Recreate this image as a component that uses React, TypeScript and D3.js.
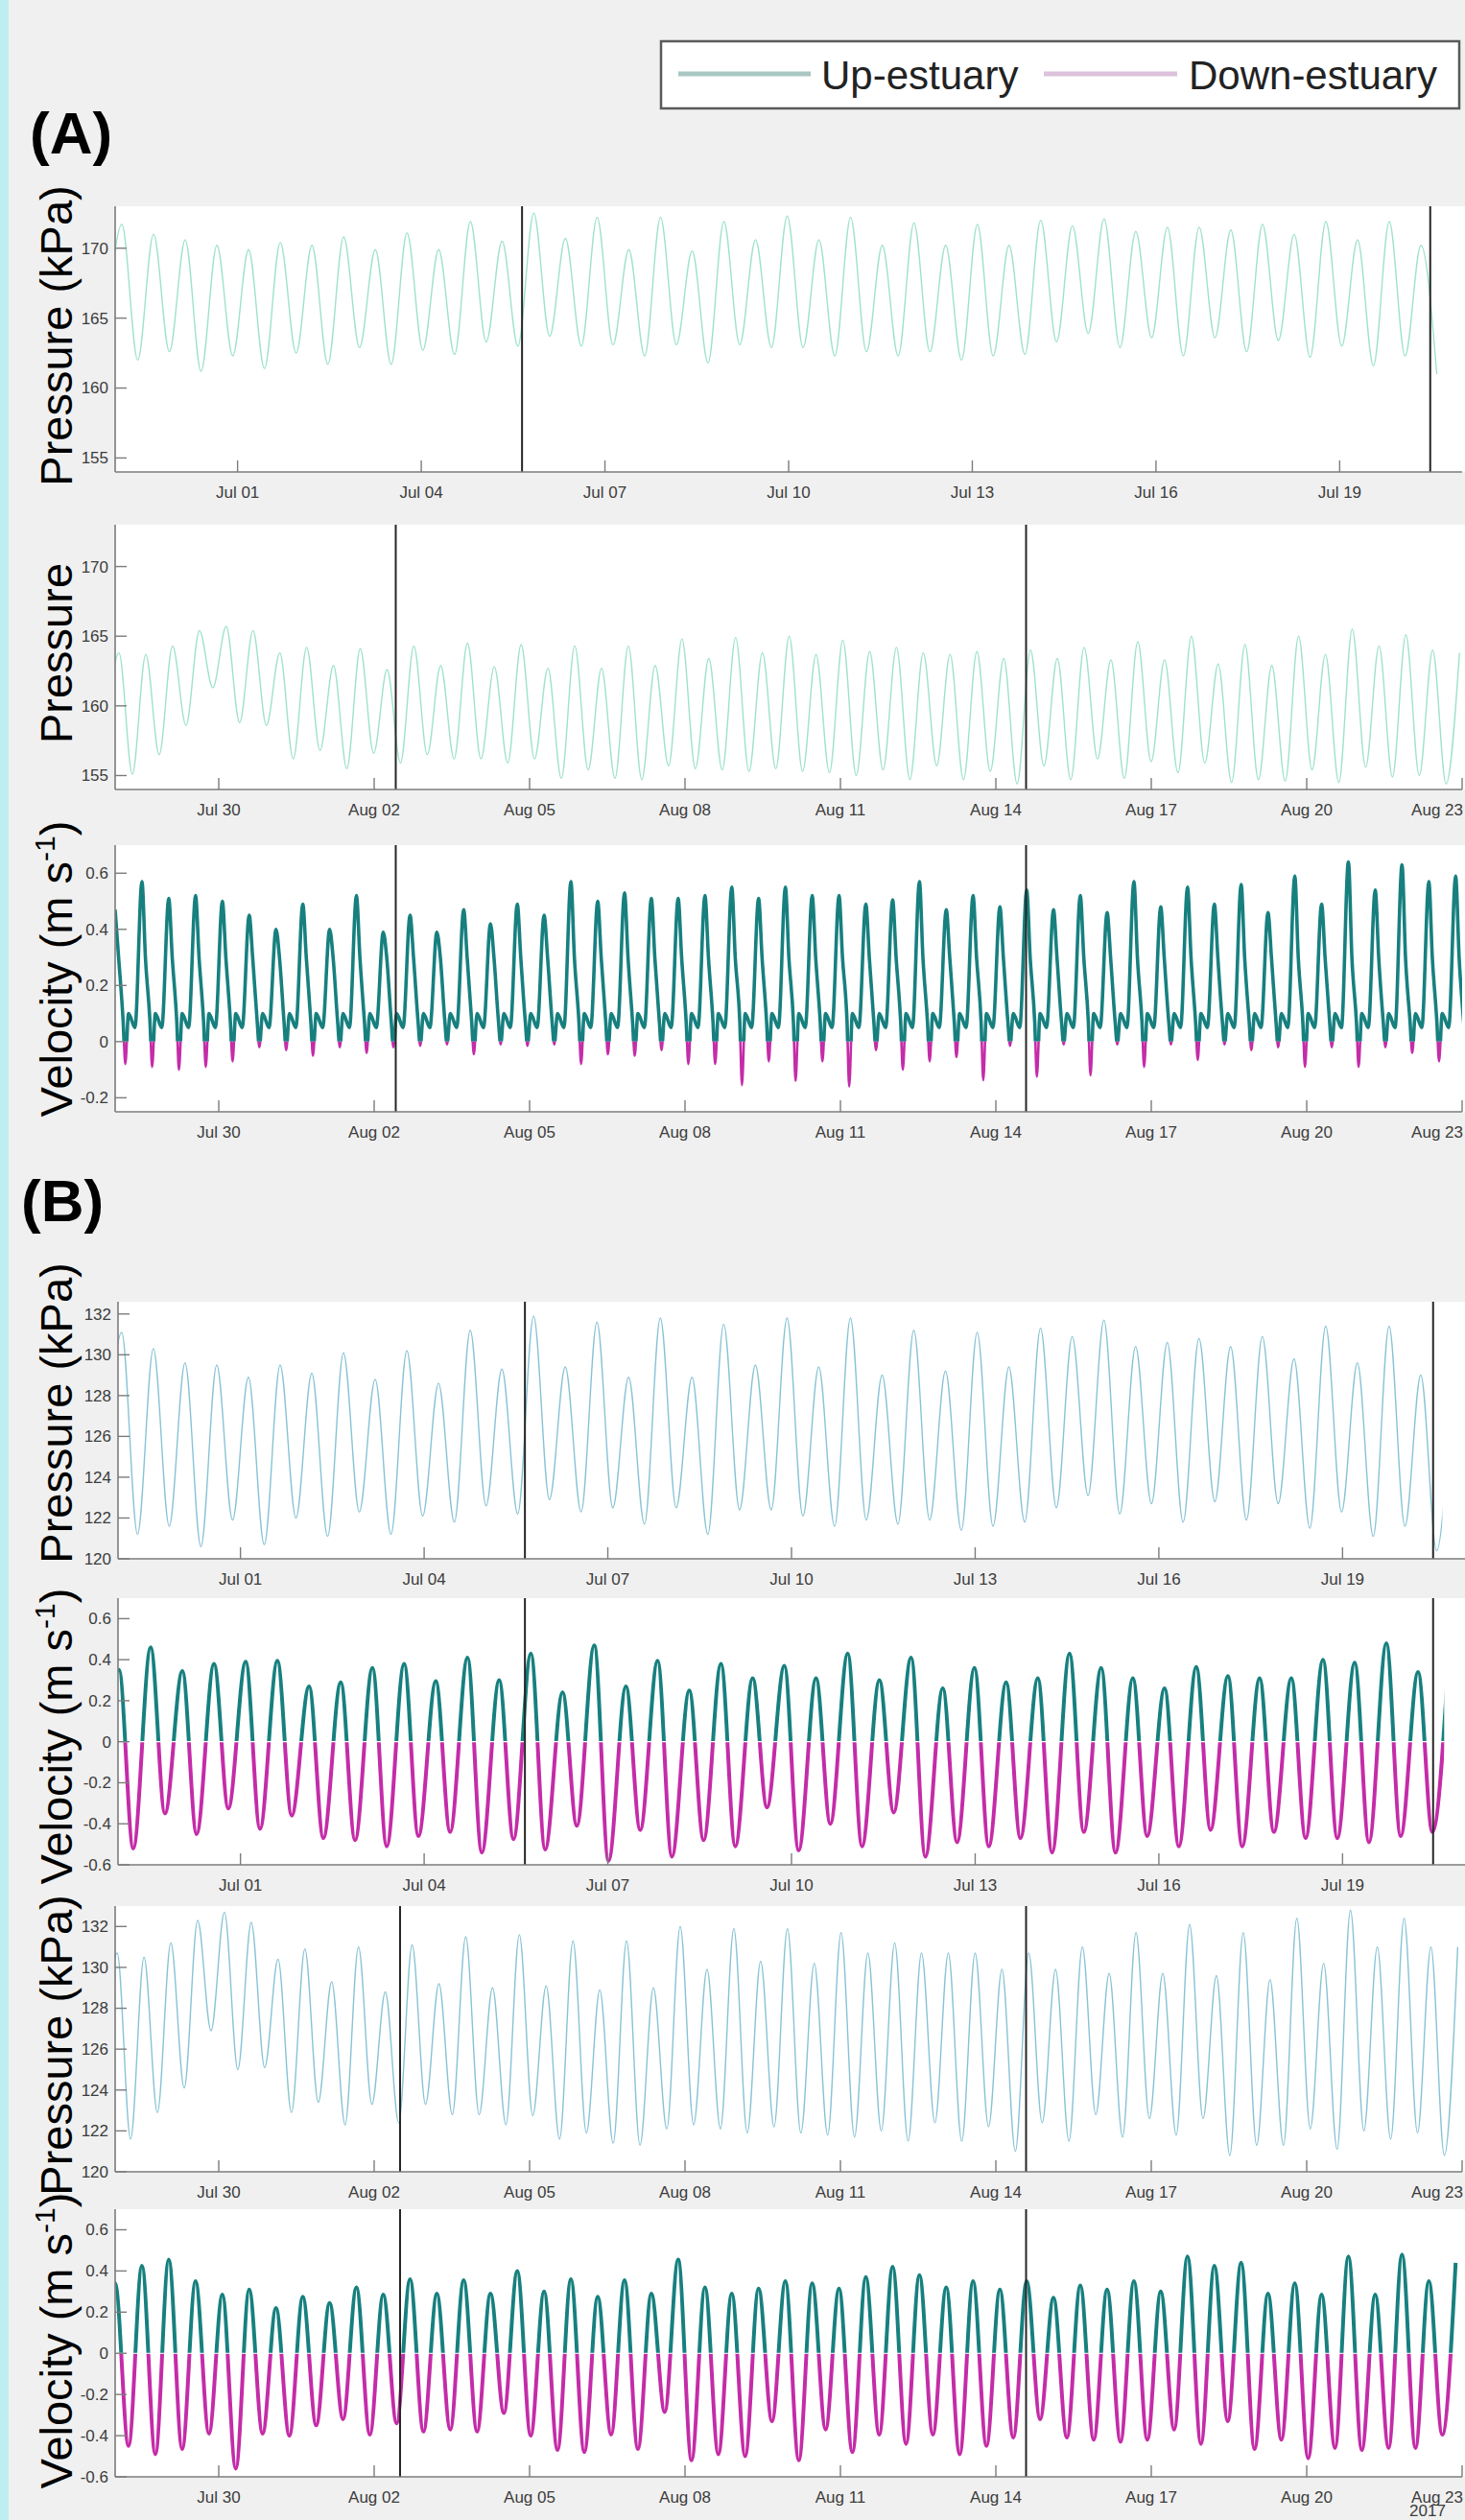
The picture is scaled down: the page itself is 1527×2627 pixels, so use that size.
import React from 'react'
import * as d3 from 'd3'

const W = 1527
const H = 2627
const DAY = 86400000
// semi-diurnal tidal period, in days
const PERIOD = 0.5175

const FONT = 'Liberation Sans, Arial, Helvetica, sans-serif'

// deployments
const D1 = ['2017-06-29', '2017-07-21']
const D2 = ['2017-07-28', '2017-08-23']
const SPLITS_A1 = ['2017-07-05T15:30', '2017-07-20T11:30']
const SPLITS_A2 = ['2017-08-02T10:00', '2017-08-14T14:00']
const SPLITS_B2 = ['2017-08-02T12:00', '2017-08-14T14:00']

const TICKS_1 = ['2017-07-01', '2017-07-04', '2017-07-07', '2017-07-10', '2017-07-13', '2017-07-16', '2017-07-19']
const TICKS_2 = ['2017-07-30', '2017-08-02', '2017-08-05', '2017-08-08', '2017-08-11', '2017-08-14', '2017-08-17', '2017-08-20', '2017-08-23']

const P_A_TICKS = [155, 160, 165, 170]
const P_B_TICKS = [120, 122, 124, 126, 128, 130, 132]
const V_A_TICKS = [-0.2, 0, 0.2, 0.4, 0.6]
const V_B_TICKS = [-0.6, -0.4, -0.2, 0, 0.2, 0.4, 0.6]

// (A) pressure, first deployment: high waters and low waters (kPa)
// lows[0] is the low before the first high, lows[i+1] follows highs[i]
const A1_HIGH = [171.7, 171.0, 170.6, 170.2, 169.9, 170.4, 170.2, 170.8, 169.9, 171.1, 169.9, 171.9, 170.5,
  172.5, 170.7, 172.2, 169.9,
  172.2, 169.8, 171.9, 170.6, 172.3, 170.6, 172.2, 170.2, 171.8, 170.2, 171.7, 170.2, 172.0, 171.6, 172.1, 171.2,
  171.5, 171.5, 171.3, 171.7, 171.0, 171.9, 170.6, 171.9, 170.2]
const A1_LOW = [163.5, 162.0, 162.6, 161.2, 162.3, 161.4, 162.5, 161.7, 162.9, 161.7, 162.7, 162.4, 163.3, 163.0,
  163.7, 163.0, 163.1, 162.3,
  163.1, 161.8, 163.1, 162.9, 162.9, 162.3, 162.6, 162.3, 162.6, 162.0, 162.3, 162.4, 163.3, 163.9, 162.9, 163.6,
  162.3, 163.6, 162.6, 163.4, 162.2, 163.0, 161.6, 162.3, 161.0]

// (A) pressure, second deployment
const A2_HIGH = [163.8, 163.7, 164.3, 165.4, 165.7, 165.4, 163.8, 164.2, 162.9, 164.1, 162.6, 164.3, 162.9, 164.5,
  162.8, 164.4, 162.7, 164.3, 162.7, 164.3, 162.9, 164.8, 163.4,
  164.9, 163.8, 165.0, 163.7, 164.7, 163.9, 164.2, 163.8, 163.7, 163.9, 163.4, 164.0, 163.4, 164.2, 163.3, 164.6,
  163.3, 165.0, 163.0, 164.4, 162.9, 165.0, 163.7, 165.5, 164.3, 165.1, 164.0, 163.8]
const A2_LOW = [158.0, 155.1, 156.5, 158.6, 161.3, 158.8, 158.6, 156.2, 156.8, 155.5, 156.6, 155.9, 156.5, 156.2,
  156.2, 155.9, 156.2, 154.8, 155.4, 154.8, 154.7, 155.7, 155.5, 155.4,
  155.3, 155.5, 155.3, 155.2, 155.0, 155.4, 154.7, 155.7, 154.7, 155.3, 154.4, 155.7, 154.7, 156.2, 154.8, 156.0,
  155.2, 155.9, 154.5, 154.7, 154.6, 155.4, 154.5, 155.6, 154.9, 155.0, 154.4]

// (A) velocity, second deployment: flood peaks and ebb dips (m/s)
const A3_PEAK = [0.47, 0.57, 0.51, 0.52, 0.50, 0.45, 0.40, 0.49, 0.40, 0.52, 0.39, 0.45, 0.39, 0.47, 0.42, 0.49,
  0.45, 0.57, 0.50, 0.53, 0.51, 0.51, 0.52, 0.55,
  0.51, 0.55, 0.52, 0.52, 0.49, 0.505, 0.57, 0.47, 0.52, 0.48, 0.54, 0.47, 0.52, 0.46, 0.57, 0.48, 0.55, 0.49,
  0.56, 0.46, 0.59, 0.49, 0.64, 0.54, 0.63, 0.57, 0.59]
const A3_EBB = [-0.08, -0.09, -0.10, -0.09, -0.07, -0.02, -0.03, -0.05, -0.02, -0.04, -0.02, -0.015, -0.01, -0.045,
  -0.01, -0.015, -0.01, -0.08, -0.045, -0.05, -0.03, -0.08, -0.08,
  -0.155, -0.07, -0.14, -0.07, -0.16, -0.03, -0.10, -0.07, -0.055, -0.137, -0.015, -0.125, -0.01, -0.12, -0.01,
  -0.09, -0.01, -0.065, -0.01, -0.03, -0.02, -0.09, -0.02, -0.09, -0.02, -0.04, -0.07, -0.01]
// shoulder, slack floor, floor after the dip, low before the next flood
const A3_LEVELS = [0.3, 0.07, 0.1, 0.05]

// (B) pressure, first deployment
const B1_HIGH = [131.1, 130.3, 129.6, 129.5, 128.9, 129.5, 129.1, 130.1, 128.8, 130.2, 128.6, 131.2, 129.3, 131.9,
  129.4, 131.6, 128.9, 131.8, 128.9, 131.5,
  129.5, 131.8, 129.4, 131.8, 129.0, 131.2, 129.2, 131.1, 129.4, 131.3, 130.9, 131.7, 130.4, 130.6, 130.8, 130.4,
  130.9, 129.8, 131.4, 129.6, 131.4, 129.0, 129.5]
const B1_LOW = [124.0, 121.2, 121.6, 120.6, 121.9, 120.7, 122.0, 121.1, 122.3, 121.2, 122.1, 121.8, 122.6, 122.2,
  122.9, 122.3, 122.5, 121.7, 122.5, 121.2,
  122.4, 122.4, 122.1, 121.6, 121.9, 121.7, 121.9, 121.4, 121.6, 121.8, 122.5, 123.1, 122.2, 122.7, 121.8, 122.8,
  121.9, 122.7, 121.5, 122.3, 121.1, 121.6, 120.4]

// (B) velocity, first deployment: flood maxima and ebb minima
const B2_HIGH = [0.35, 0.46, 0.345, 0.38, 0.39, 0.395, 0.27, 0.29, 0.36, 0.38, 0.295, 0.41, 0.30, 0.43, 0.24, 0.47,
  0.27, 0.395, 0.25, 0.38,
  0.31, 0.37, 0.31, 0.43, 0.30, 0.41, 0.26, 0.36, 0.29, 0.31, 0.43, 0.36, 0.31, 0.26, 0.365, 0.32, 0.31, 0.31, 0.40,
  0.385, 0.48, 0.34, 0.5]
const B2_LOW = [-0.3, -0.52, -0.35, -0.45, -0.325, -0.425, -0.36, -0.47, -0.48, -0.51, -0.46, -0.44, -0.54, -0.475,
  -0.525, -0.41, -0.58, -0.43, -0.56, -0.48,
  -0.51, -0.32, -0.53, -0.40, -0.51, -0.345, -0.56, -0.49, -0.51, -0.47, -0.54, -0.44, -0.54, -0.46, -0.51, -0.43,
  -0.51, -0.44, -0.47, -0.47, -0.49, -0.46, -0.44]

// (B) pressure, second deployment
const B3_HIGH = [130.7, 130.5, 131.2, 132.3, 132.7, 132.2, 130.4, 130.9, 129.3, 131.0, 128.8, 131.1, 129.2, 131.5,
  129.0, 131.6, 129.1, 131.3, 128.9, 131.3, 129.0, 132.0, 129.9,
  131.9, 130.3, 131.9, 130.2, 131.7, 130.7, 131.2, 130.7, 130.7, 130.7, 129.9, 130.7, 129.9, 131.0, 129.7, 131.7,
  129.7, 132.1, 129.6, 131.7, 129.4, 132.4, 130.2, 132.8, 131.0, 132.4, 131.0, 131.0]
const B3_LOW = [125.0, 121.6, 122.9, 124.1, 126.9, 125.0, 125.1, 122.9, 123.4, 122.3, 123.3, 122.4, 123.3, 122.8,
  122.8, 122.3, 122.75, 121.6, 121.9, 121.4, 121.3, 122.1, 122.3, 122.1,
  121.9, 122.2, 121.9, 121.8, 121.7, 122.0, 121.5, 122.4, 121.5, 122.2, 121.0, 122.4, 121.5, 122.8, 121.7, 122.6,
  121.8, 122.6, 120.8, 121.3, 121.3, 122.1, 121.1, 122.0, 121.6, 121.9, 120.8]

// (B) velocity, second deployment
const B4_HIGH = [0.34, 0.425, 0.455, 0.35, 0.285, 0.31, 0.22, 0.275, 0.245, 0.32, 0.285, 0.36, 0.29, 0.355, 0.29,
  0.40, 0.30, 0.36, 0.275, 0.355, 0.29, 0.455, 0.32, 0.29,
  0.315, 0.35, 0.34, 0.315, 0.37, 0.42, 0.38, 0.32, 0.35, 0.31, 0.35, 0.27, 0.33, 0.31, 0.35, 0.30, 0.47, 0.425,
  0.44, 0.29, 0.34, 0.285, 0.47, 0.285, 0.48, 0.35, 0.44]
const B4_LOW = [-0.3, -0.45, -0.49, -0.465, -0.39, -0.56, -0.39, -0.40, -0.35, -0.32, -0.395, -0.34, -0.38, -0.37,
  -0.38, -0.29, -0.40, -0.47, -0.48, -0.395, -0.465, -0.285, -0.52, -0.49,
  -0.50, -0.33, -0.52, -0.37, -0.48, -0.395, -0.44, -0.395, -0.49, -0.45, -0.41, -0.32, -0.41, -0.42, -0.43, -0.42,
  -0.37, -0.44, -0.33, -0.465, -0.42, -0.51, -0.46, -0.47, -0.46, -0.46, -0.395]

const C_PA = '#9fe2cb'
const C_PB = '#88c3d4'
const C_UP = '#17807f'
const C_DOWN = '#c42ca8'
const C_AXIS = '#7c7c7c'
const C_TEXT = '#3c3c3c'

type Pt = { t: number; v: number }

const utc = (s: string) => new Date(s.length > 10 ? s + ':00Z' : s + 'T00:00:00Z').getTime()

// alternate highs and lows along the tidal period
function tide(start: string, t0: number, highs: number[], lows: number[], lowFrac: number): Pt[] {
  const s = utc(start)
  const pts: Pt[] = [{ t: s + (t0 - (1 - lowFrac) * PERIOD) * DAY, v: lows[0] }]
  highs.forEach((h, i) => {
    const th = t0 + i * PERIOD
    pts.push({ t: s + th * DAY, v: h })
    if (lows[i + 1] !== undefined) pts.push({ t: s + (th + lowFrac * PERIOD) * DAY, v: lows[i + 1] })
  })
  return pts
}

// flood-dominated velocity: peak, shoulder, slack floor with a short ebb dip
function flood(start: string, t0: number, peaks: number[], ebbs: number[], lv: number[]): Pt[] {
  const s = utc(start)
  const pts: Pt[] = []
  peaks.forEach((p, i) => {
    const tp = t0 + i * PERIOD
    pts.push({ t: s + tp * DAY, v: p })
    if (ebbs[i] === undefined) return
    pts.push({ t: s + (tp + 0.13 * PERIOD) * DAY, v: lv[0] })
    pts.push({ t: s + (tp + 0.3 * PERIOD) * DAY, v: lv[1] })
    pts.push({ t: s + (tp + 0.38 * PERIOD) * DAY, v: ebbs[i] })
    pts.push({ t: s + (tp + 0.5 * PERIOD) * DAY, v: lv[2] })
    pts.push({ t: s + (tp + 0.74 * PERIOD) * DAY, v: lv[3] })
  })
  return pts
}

type PanelDef = {
  id: string
  left: number
  right: number
  top: number
  bottom: number
  dom: string[]
  y: [number, number]
  yTicks: number[]
  xTicks: string[]
  splits: string[]
  kind: 'p' | 'v'
  color?: string
  series: Pt[]
  end?: number
  zeroLine?: boolean
}

const PANELS: PanelDef[] = [
  { id: 'a1', left: 120, right: 1524, top: 215, bottom: 492, dom: D1, y: [154, 173], yTicks: P_A_TICKS, xTicks: TICKS_1,
    splits: SPLITS_A1, kind: 'p', color: C_PA, series: tide(D1[0], 0.11, A1_HIGH, A1_LOW, 0.5), end: 21.63 },
  { id: 'a2', left: 120, right: 1524, top: 547, bottom: 823, dom: D2, y: [154, 173], yTicks: P_A_TICKS, xTicks: TICKS_2,
    splits: SPLITS_A2, kind: 'p', color: C_PA, series: tide(D2[0], 0.074, A2_HIGH, A2_LOW, 0.5) },
  { id: 'a3', left: 120, right: 1524, top: 881, bottom: 1159, dom: D2, y: [-0.25, 0.7], yTicks: V_A_TICKS, xTicks: TICKS_2,
    splits: SPLITS_A2, kind: 'v', series: flood(D2[0], 0.0, A3_PEAK, A3_EBB, A3_LEVELS) },
  { id: 'b1', left: 123, right: 1527, top: 1357, bottom: 1625, dom: D1, y: [120, 132.6], yTicks: P_B_TICKS, xTicks: TICKS_1,
    splits: SPLITS_A1, kind: 'p', color: C_PB, series: tide(D1[0], 0.06, B1_HIGH, B1_LOW, 0.5), end: 21.63 },
  { id: 'b2', left: 123, right: 1527, top: 1666, bottom: 1944, dom: D1, y: [-0.6, 0.7], yTicks: V_B_TICKS, xTicks: TICKS_1,
    splits: SPLITS_A1, kind: 'v', series: tide(D1[0], 0.016, B2_HIGH, B2_LOW, 0.45), end: 21.66, zeroLine: true },
  { id: 'b3', left: 120, right: 1524, top: 1987, bottom: 2264, dom: D2, y: [120, 133], yTicks: P_B_TICKS, xTicks: TICKS_2,
    splits: SPLITS_B2, kind: 'p', color: C_PB, series: tide(D2[0], 0.04, B3_HIGH, B3_LOW, 0.5) },
  { id: 'b4', left: 120, right: 1524, top: 2303, bottom: 2582, dom: D2, y: [-0.6, 0.7], yTicks: V_B_TICKS, xTicks: TICKS_2,
    splits: SPLITS_B2, kind: 'v', series: tide(D2[0], 0.0, B4_HIGH, B4_LOW, 0.5), zeroLine: true },
]

const fmtDate = d3.utcFormat('%b %d')
const fmtVal = (v: number, kind: string) => (kind === 'v' ? (Math.abs(v) < 1e-9 ? '0' : v.toFixed(1)) : String(v))

function Panel({ p }: { p: PanelDef }) {
  const t0 = utc(p.dom[0])
  const x = d3.scaleUtc().domain([t0, utc(p.dom[1])]).range([p.left, p.right])
  const y = d3.scaleLinear().domain(p.y).range([p.bottom, p.top])
  const clipRight = Math.min(p.right, p.end !== undefined ? x(t0 + p.end * DAY) : p.right)
  const line = d3.line<Pt>().x(d => x(d.t)).y(d => y(d.v)).curve(d3.curveMonotoneX)
  const d = line(p.series) || ''
  const y0 = y(0)
  const sw = p.kind === 'v' ? (p.zeroLine ? 4 : 3.6) : 1.4
  return (
    <g>
      <defs>
        <clipPath id={`clip-${p.id}`}>
          <rect x={p.left} y={p.top} width={clipRight - p.left} height={p.bottom - p.top} />
        </clipPath>
        {p.kind === 'v' && (
          <>
            <clipPath id={`pos-${p.id}`}>
              <rect x={p.left} y={p.top} width={clipRight - p.left} height={y0 - p.top} />
            </clipPath>
            <clipPath id={`neg-${p.id}`}>
              <rect x={p.left} y={y0} width={clipRight - p.left} height={p.bottom - y0} />
            </clipPath>
          </>
        )}
      </defs>
      <rect x={p.left} y={p.top} width={W - p.left} height={p.bottom - p.top} fill="#fff" />
      {p.kind === 'p' ? (
        <path d={d} fill="none" stroke={p.color} strokeWidth={sw} clipPath={`url(#clip-${p.id})`} />
      ) : (
        <>
          <path d={d} fill="none" stroke={C_UP} strokeWidth={sw} strokeLinejoin="round"
            clipPath={`url(#pos-${p.id})`} />
          <path d={d} fill="none" stroke={C_DOWN} strokeWidth={p.zeroLine ? sw : 2.6} strokeLinejoin="round"
            clipPath={`url(#neg-${p.id})`} />
          {p.zeroLine && (
            <line x1={p.left} x2={clipRight} y1={y0} y2={y0} stroke="#fff" strokeWidth={1.2} />
          )}
        </>
      )}
      {p.splits.map(s => (
        <line key={s} x1={x(utc(s))} x2={x(utc(s))} y1={p.top} y2={p.bottom} stroke="#262626" strokeWidth={2} />
      ))}
      <line x1={p.left} x2={p.left} y1={p.top} y2={p.bottom} stroke={C_AXIS} strokeWidth={1.6} />
      <line x1={p.left} x2={p.right} y1={p.bottom} y2={p.bottom} stroke={C_AXIS} strokeWidth={1.6} />
      {p.yTicks.map(v => (
        <g key={v}>
          <line x1={p.left} x2={p.left + 12} y1={y(v)} y2={y(v)} stroke={C_AXIS} strokeWidth={1.4} />
          <text x={p.left - 7} y={y(v)} dy="0.35em" textAnchor="end" fontSize={17} fill={C_TEXT} fontFamily={FONT}>
            {fmtVal(v, p.kind)}
          </text>
        </g>
      ))}
      {p.xTicks.map(s => {
        const xx = x(utc(s))
        // keep the label at the right edge inside the figure
        const atEdge = xx + 28 > W
        return (
          <g key={s}>
            <line x1={xx} x2={xx} y1={p.bottom} y2={p.bottom - 12} stroke={C_AXIS} strokeWidth={1.4} />
            <text x={atEdge ? W - 2 : xx} y={p.bottom + 27} textAnchor={atEdge ? 'end' : 'middle'} fontSize={17}
              fill={C_TEXT} fontFamily={FONT}>
              {fmtDate(new Date(utc(s)))}
            </text>
          </g>
        )
      })}
    </g>
  )
}

function YLabel({ cy, text, unit }: { cy: number; text: string; unit?: boolean }) {
  return (
    <text transform={`translate(75,${cy}) rotate(-90)`} textAnchor="middle" fontSize={47} fill="#000" fontFamily={FONT}>
      {text}
      {unit && (
        <>
          {' (m s'}
          <tspan dy={-18} fontSize={30}>-1</tspan>
          <tspan dy={18}>)</tspan>
        </>
      )}
    </text>
  )
}

export default function App() {
  return (
    <div style={{ position: 'absolute', left: 0, top: 0 }}>
      <svg width={W} height={H} viewBox={`0 0 ${W} ${H}`} style={{ display: 'block', background: '#f0f0f0' }}>
        <rect x={0} y={0} width={W} height={H} fill="#f0f0f0" />
        <rect x={0} y={0} width={9} height={H} fill="#bdeef1" />

        {/* legend */}
        <rect x={689} y={43} width={832} height={70} fill="#fff" stroke="#5a5a5a" strokeWidth={2.5} />
        <line x1={707} x2={845} y1={77} y2={77} stroke="#a9c7c2" strokeWidth={5} />
        <text x={856} y={93} fontSize={42} fill="#222" fontFamily={FONT}>Up-estuary</text>
        <line x1={1088} x2={1227} y1={77} y2={77} stroke="#dcc2dc" strokeWidth={5} />
        <text x={1239} y={93} fontSize={42} fill="#222" fontFamily={FONT}>Down-estuary</text>

        <text x={31} y={160} fontSize={62} fontWeight="bold" fill="#000" fontFamily={FONT}>(A)</text>
        <text x={22} y={1273} fontSize={62} fontWeight="bold" fill="#000" fontFamily={FONT}>(B)</text>

        {PANELS.map(p => <Panel key={p.id} p={p} />)}

        <YLabel cy={350} text="Pressure (kPa)" />
        <YLabel cy={681} text="Pressure" />
        <YLabel cy={1010} text="Velocity" unit />
        <YLabel cy={1473} text="Pressure (kPa)" />
        <YLabel cy={1810} text="Velocity" unit />
        <YLabel cy={2132} text="Pressure (kPa)" />
        <YLabel cy={2440} text="Velocity" unit />

        <text x={1488} y={2623} textAnchor="middle" fontSize={17} fill={C_TEXT} fontFamily={FONT}>2017</text>
      </svg>
    </div>
  )
}
